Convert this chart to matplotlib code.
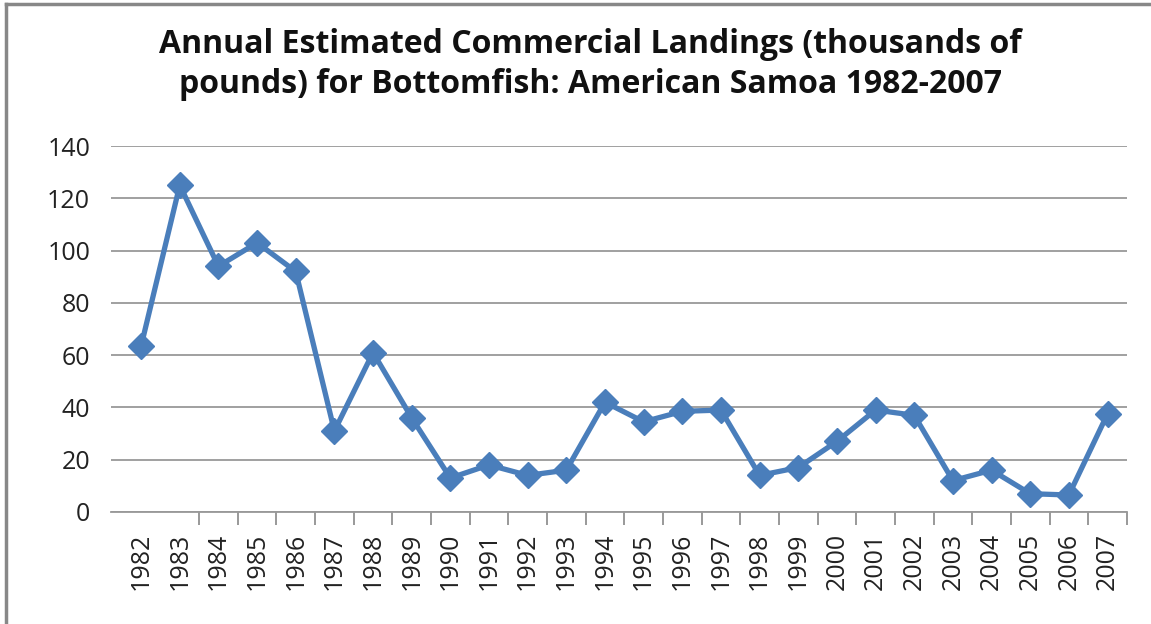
import matplotlib.pyplot as plt
from matplotlib.lines import Line2D

# Annual landings, thousands of pounds
years = [str(y) for y in range(1982, 2008)]
landings = [63.5, 125, 94, 103, 92, 31, 61, 36, 13, 18, 14, 16, 42, 34.5,
            38.5, 39, 14, 17, 27, 39, 37, 12, 16, 7, 6.5, 37.5]
y_ticks = [0, 20, 40, 60, 80, 100, 120, 140]

fig = plt.figure(figsize=(11.51, 6.24), dpi=100)
ax = fig.add_axes([0.0964, 0.1795, 0.8826, 0.5865])

x = list(range(len(years)))
ax.plot(x, landings, color='#4a7ebb', linewidth=3.8, marker='D',
        markersize=13, zorder=3)

ax.set_ylim(0, 140)
ax.set_xlim(-0.78, 25.5)
ax.set_yticks(y_ticks)
ax.set_xticks(x)
ax.set_xticklabels(years, rotation=90)
ax.set_xticks([i + 0.5 for i in range(1, 26)], minor=True)
ax.tick_params(axis='x', which='major', length=0, pad=15, labelsize=18)
ax.tick_params(axis='x', which='minor', length=9, color='#888888', width=1.2)
ax.tick_params(axis='y', length=0, pad=15, labelsize=18)
for lab in ax.get_xticklabels() + ax.get_yticklabels():
    lab.set_fontfamily('Open Sans')
    lab.set_color('#222222')

ax.grid(axis='y', color='#999999', linewidth=1.3)
ax.set_axisbelow(True)
for s in ['top', 'right', 'left']:
    ax.spines[s].set_visible(False)
ax.spines['bottom'].set_color('#999999')
ax.spines['bottom'].set_linewidth(1.3)

fig.text(0.513, 0.897,
         'Annual Estimated Commercial Landings (thousands of\npounds) for Bottomfish: American Samoa 1982-2007',
         ha='center', va='center', fontsize=23, fontweight='bold',
         family='Open Sans', linespacing=1.3, color='#111111')

# outer chart border (only top and left visible in the crop)
fig.add_artist(Line2D([6 / 1151, 6 / 1151], [0, 1 - 4 / 624], transform=fig.transFigure,
                      color='#888888', linewidth=2.5))
fig.add_artist(Line2D([6 / 1151, 1], [1 - 4 / 624, 1 - 4 / 624], transform=fig.transFigure,
                      color='#888888', linewidth=2.5))

plt.savefig('out.png', dpi=100)
